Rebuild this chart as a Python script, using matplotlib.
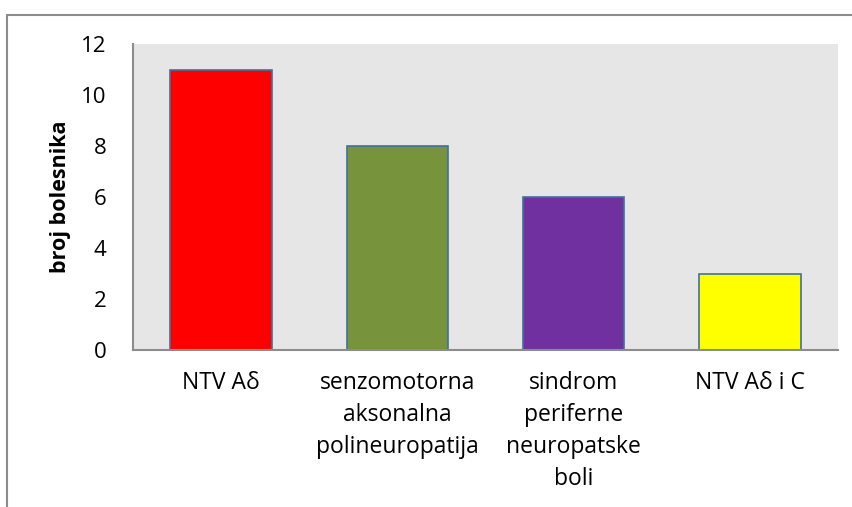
import matplotlib.pyplot as plt
from matplotlib.patches import Rectangle

categories = ['NTV A\u03b4', 'senzomotorna\naksonalna\npolineuropatija',
              'sindrom\nperiferne\nneuropatske\nboli', 'NTV A\u03b4 i C']
counts = [11, 8, 6, 3]
colors = ['#FF0000', '#77933C', '#7030A0', '#FFFF00']
yticks = [0, 2, 4, 6, 8, 10, 12]

plt.rcParams['font.family'] = ['Open Sans', 'DejaVu Sans']

fig = plt.figure(figsize=(8.53, 5.07), dpi=100)
ax = fig.add_axes([133 / 853, 1 - 350 / 507, 705 / 853, 306 / 507])

# outer chart border (cut at right and bottom edges)
fig.patches.append(Rectangle((7 / 853, -0.05), 1.0, 1 - 15 / 507 + 0.05,
                             transform=fig.transFigure, fill=False,
                             edgecolor='#8C8C8C', linewidth=1.5))

x = range(len(categories))
ax.bar(x, counts, width=0.575, color=colors, edgecolor='#41719C', linewidth=1.2, zorder=2)

ax.set_facecolor('#E6E6E6')
ax.set_xlim(-0.5, 3.5)
ax.set_ylim(0, 12)
ax.set_yticks(yticks)
ax.set_xticks(list(x))
ax.set_xticklabels(categories, fontsize=16.5, linespacing=1.45, va='top')
ax.tick_params(axis='both', length=0, colors='black')
ax.tick_params(axis='y', labelsize=16, pad=19)
ax.tick_params(axis='x', pad=15)
for s in ['top', 'right']:
    ax.spines[s].set_visible(False)
for s in ['left', 'bottom']:
    ax.spines[s].set_color('#8C8C8C')
    ax.spines[s].set_linewidth(1.5)
ax.set_ylabel('broj bolesnika', fontsize=15.5, fontweight='bold')
ax.yaxis.set_label_coords(71 / 853, 1 - 197 / 507, transform=fig.transFigure)

fig.savefig('out.png', dpi=100)
